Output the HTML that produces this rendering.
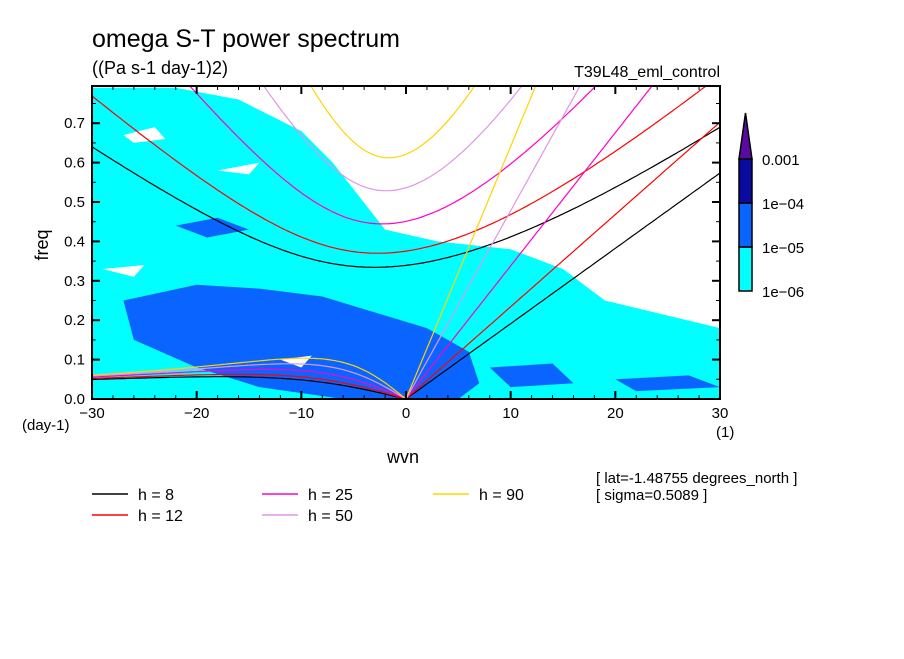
<!DOCTYPE html>
<html><head><meta charset="utf-8"><style>
body{margin:0;background:#fff;}
svg text{font-family:"Liberation Sans",sans-serif;fill:#000;}
</style></head><body>
<svg id="c" width="904" height="654" xmlns="http://www.w3.org/2000/svg">
<defs><clipPath id="pc"><rect x="92" y="86" width="628" height="313"/></clipPath></defs>
<g id="field" clip-path="url(#pc)"></g>
<g id="curves" clip-path="url(#pc)"></g>
<g id="axes"></g>
<text x="92" y="47" font-size="25">omega S-T power spectrum</text>
<text x="92" y="74" font-size="18">((Pa s-1 day-1)2)</text>
<text x="720" y="77" font-size="16" text-anchor="end">T39L48_eml_control</text>
<text x="48" y="245" font-size="18" transform="rotate(-90 48 245)" text-anchor="middle">freq</text>
<text x="403" y="463" font-size="18" text-anchor="middle">wvn</text>
<text x="22" y="430" font-size="15">(day-1)</text>
<text x="716" y="437" font-size="15">(1)</text>
<text x="596" y="483" font-size="15">[ lat=-1.48755 degrees_north ]</text>
<text x="596" y="500" font-size="15">[ sigma=0.5089 ]</text>
<g id="legend"></g>
<g id="cbar"></g>
</svg>
<script>
const depths=[8,12,25,50,90];
const depthColors=["#000000","#ff0000","#ff00c8","#e096e6","#ffd400"];
const xTicks=[-30,-20,-10,0,10,20,30];
const yTicks=[0.0,0.1,0.2,0.3,0.4,0.5,0.6,0.7];
const cbarLevels=["1e-06","1e-05","1e-04","0.001"];
const cbarColors=["#00ffff","#0a64ff","#0a0aa0","#5a0aa0"];
// field regions in data coords (wvn, freq)
const cyanRegion=[[-30,0.79],[-22,0.79],[-16,0.76],[-10,0.68],[-7,0.6],[-2,0.43],[3,0.4],[10,0.38],[15,0.33],[19,0.25],[30,0.18],[30,0],[-30,0]];
const blueRegions=[
 [[-27,0.25],[-20,0.29],[-14,0.28],[-8,0.26],[-3,0.22],[2,0.18],[6,0.12],[7,0.04],[5,0.0],[-6,0.0],[-14,0.03],[-20,0.08],[-26,0.15]],
 [[-22,0.44],[-18,0.46],[-15,0.43],[-19,0.41]],
 [[8,0.08],[14,0.09],[16,0.04],[10,0.03]],
 [[20,0.05],[27,0.06],[30,0.03],[22,0.02]]
];
const whiteHoles=[[[-29,0.33],[-25,0.34],[-26,0.31]],[[-12,0.1],[-9,0.11],[-10,0.08]],[[-27,0.67],[-24,0.69],[-23,0.66],[-26,0.65]],[[-18,0.58],[-14,0.6],[-15,0.57]]];

const X0=92,X1=720,Y0=399,PY=394;
const xs=k=>X0+(k+30)*(X1-X0)/60;
const ys=f=>Y0-f*PY;
const NS="http://www.w3.org/2000/svg";
function mk(tag,parent){const e=document.createElementNS(NS,tag);document.getElementById(parent).appendChild(e);return e;}

function poly(pts,fill,name){const p=mk("polygon","field");
p.setAttribute("points",pts.map(q=>xs(q[0])+","+ys(q[1])).join(" "));p.setAttribute("fill",fill);

}
poly(cyanRegion,cbarColors[0],"cyan-region");
blueRegions.forEach((r,i)=>poly(r,cbarColors[1],"blue-region"));
whiteHoles.forEach(r=>poly(r,"#ffffff","white-gap"));

// dispersion
const Om=7.292e-5,a=6.371e6,beta=2*Om/a,g=9.81,toCpd=86400/(2*Math.PI);
function igRoot(k,c){let w=2*Math.sqrt(k*k*c*c+3*beta*c)+1e-5;
 for(let i=0;i<60;i++){const f=w*w*w-(k*k*c*c+3*beta*c)*w-beta*k*c*c;const d=3*w*w-(k*k*c*c+3*beta*c);w-=f/d;}return w;}
function line(pts,color,name){const p=mk("polyline","curves");
p.setAttribute("points",pts.map(q=>xs(q[0]).toFixed(1)+","+ys(q[1]).toFixed(1)).join(" "));
p.setAttribute("fill","none");p.setAttribute("stroke",color);p.setAttribute("stroke-width","1.2");

}
depths.forEach((h,i)=>{const c=Math.sqrt(g*h);const col=depthColors[i];
 const kel=[],ig=[],er=[];
 for(let s=-30;s<=30.001;s+=0.25){const k=s/a;
  ig.push([s,igRoot(k,c)*toCpd]);
  if(s>=0)kel.push([s,k*c*toCpd]);
  if(s<=0)er.push([s,-beta*k/(k*k+3*beta/c)*toCpd]);}
 line(ig,col,"ig-curve-h"+h);line(kel,col,"kelvin-line-h"+h);line(er,col,"er-curve-h"+h);
});

// axes
const fr=mk("rect","axes");fr.setAttribute("x",X0);fr.setAttribute("y",86);fr.setAttribute("width",X1-X0);fr.setAttribute("height",Y0-86);
fr.setAttribute("fill","none");fr.setAttribute("stroke","#000");fr.setAttribute("stroke-width","2");


function tick(x1,y1,x2,y2,w){const l=mk("line","axes");l.setAttribute("x1",x1);l.setAttribute("y1",y1);l.setAttribute("x2",x2);l.setAttribute("y2",y2);l.setAttribute("stroke","#000");l.setAttribute("stroke-width",w);

}
for(let s=-30;s<=30;s+=2){const maj=s%10===0;tick(xs(s),Y0,xs(s),Y0-(maj?8:4),maj?2:1);tick(xs(s),86,xs(s),86+(maj?8:4),maj?2:1);}
for(let f=0;f<=0.79;f+=0.05){const maj=Math.round(f*20)%2===0;tick(X0,ys(f),X0+(maj?8:4),ys(f),maj?2:1);tick(X1,ys(f),X1-(maj?8:4),ys(f),maj?2:1);}
xTicks.forEach(v=>{const t=mk("text","axes");t.setAttribute("x",xs(v));t.setAttribute("y",418);t.setAttribute("font-size","15");t.setAttribute("text-anchor","middle");t.textContent=(v<0?"\u2212":"")+Math.abs(v);

});
yTicks.forEach(v=>{const t=mk("text","axes");t.setAttribute("x",85);t.setAttribute("y",ys(v)+5);t.setAttribute("font-size","15");t.setAttribute("text-anchor","end");t.textContent=v.toFixed(1);

});

// legend
const legX=[92,92,262,262,433],legY=[494,515,494,515,494];
depths.forEach((h,i)=>{const l=mk("line","legend");l.setAttribute("x1",legX[i]);l.setAttribute("x2",legX[i]+36);l.setAttribute("y1",legY[i]);l.setAttribute("y2",legY[i]);l.setAttribute("stroke",depthColors[i]);l.setAttribute("stroke-width","1.5");


const t=mk("text","legend");t.setAttribute("x",legX[i]+46);t.setAttribute("y",legY[i]+6);t.setAttribute("font-size","16");t.setAttribute("xml:space","preserve");t.textContent="h = "+(h<10?" ":"")+h;

});

// colorbar
const cbY=[291,247,203,159];
for(let i=0;i<3;i++){const r=mk("rect","cbar");r.setAttribute("x",739);r.setAttribute("y",cbY[i+1]);r.setAttribute("width",13);r.setAttribute("height",44);r.setAttribute("fill",cbarColors[i]);r.setAttribute("stroke","#000");r.setAttribute("stroke-width","1.5");

}
const tri=mk("polygon","cbar");tri.setAttribute("points","739,159 752,159 745.5,113");tri.setAttribute("fill",cbarColors[3]);tri.setAttribute("stroke","#000");tri.setAttribute("stroke-width","1.5");


cbarLevels.forEach((s,i)=>{const t=mk("text","cbar");t.setAttribute("x",762);t.setAttribute("y",cbY[i]+6);t.setAttribute("font-size","15");t.textContent=s.replace("-","\u2212");

});
</script>
</body></html>
